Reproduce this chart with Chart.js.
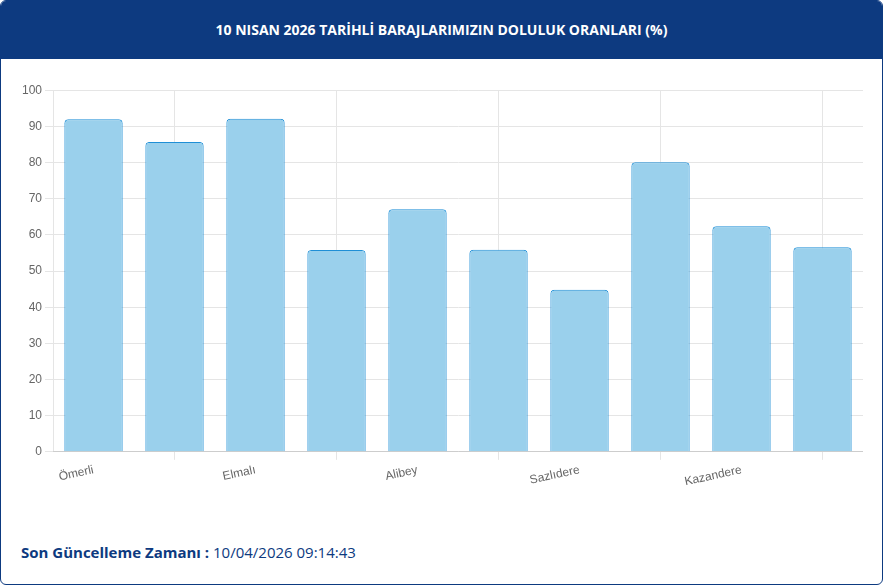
<!DOCTYPE html>
<html><head><meta charset="utf-8">
<script src="https://cdn.jsdelivr.net/npm/chart.js@4.4.1/dist/chart.umd.min.js"></script>
<style>
body{margin:0;background:#fff;font-family:"Open Sans",sans-serif;}
#card{position:absolute;left:0;top:0;width:881px;height:583px;border:1px solid #0d3a80;border-radius:6px;overflow:hidden;}
#head{height:58px;background:#0d3a80;color:#fff;font:bold 14px "Open Sans",sans-serif;text-align:center;line-height:58px;}
#wrap{position:absolute;left:18px;top:79px;width:844px;height:412px;}
#foot{position:absolute;left:20px;top:541px;font:15px "Open Sans",sans-serif;color:#0d3a80;}
</style></head><body>
<div id="card">
<div id="head">10 NISAN 2026 TARİHLİ BARAJLARIMIZIN DOLULUK ORANLARI (%)</div>
<div id="wrap"><canvas id="c"></canvas></div>
<div id="foot"><b>Son Güncelleme Zamanı :</b> 10/04/2026 09:14:43</div>
</div>
<script>
const dams = ['Ömerli','Darlık','Elmalı','Terkos','Alibey','Büyükçekmece','Sazlıdere','Istrancalar','Kazandere','Pabuçdere'];
const fillRates = [92.0, 85.7, 92.1, 55.8, 67.1, 55.9, 44.8, 80.1, 62.4, 56.6];

new Chart(document.getElementById('c'), {
  type: 'bar',
  data: {
    labels: dams,
    datasets: [{
      data: fillRates,
      backgroundColor: 'rgba(154,208,236,1)',
      borderColor: '#1f8fd6',
      borderWidth: 1,
      borderRadius: 4,
      borderSkipped: 'bottom',
      categoryPercentage: 0.8,
      barPercentage: 0.9
    }]
  },
  options: {
    responsive: true,
    maintainAspectRatio: false,
    animation: false,
    plugins: { legend: { display: false }, tooltip: { enabled: false } },
    scales: {
      x: {
        grid: { color: '#e5e5e5' },
        ticks: { color: '#666', font: { size: 12 }, minRotation: 12, maxRotation: 12 }
      },
      y: {
        min: 0, max: 100,
        grid: { color: '#e5e5e5' },
        ticks: { stepSize: 10, color: '#666', font: { size: 12 } }
      }
    }
  }
});
</script>
</body></html>
